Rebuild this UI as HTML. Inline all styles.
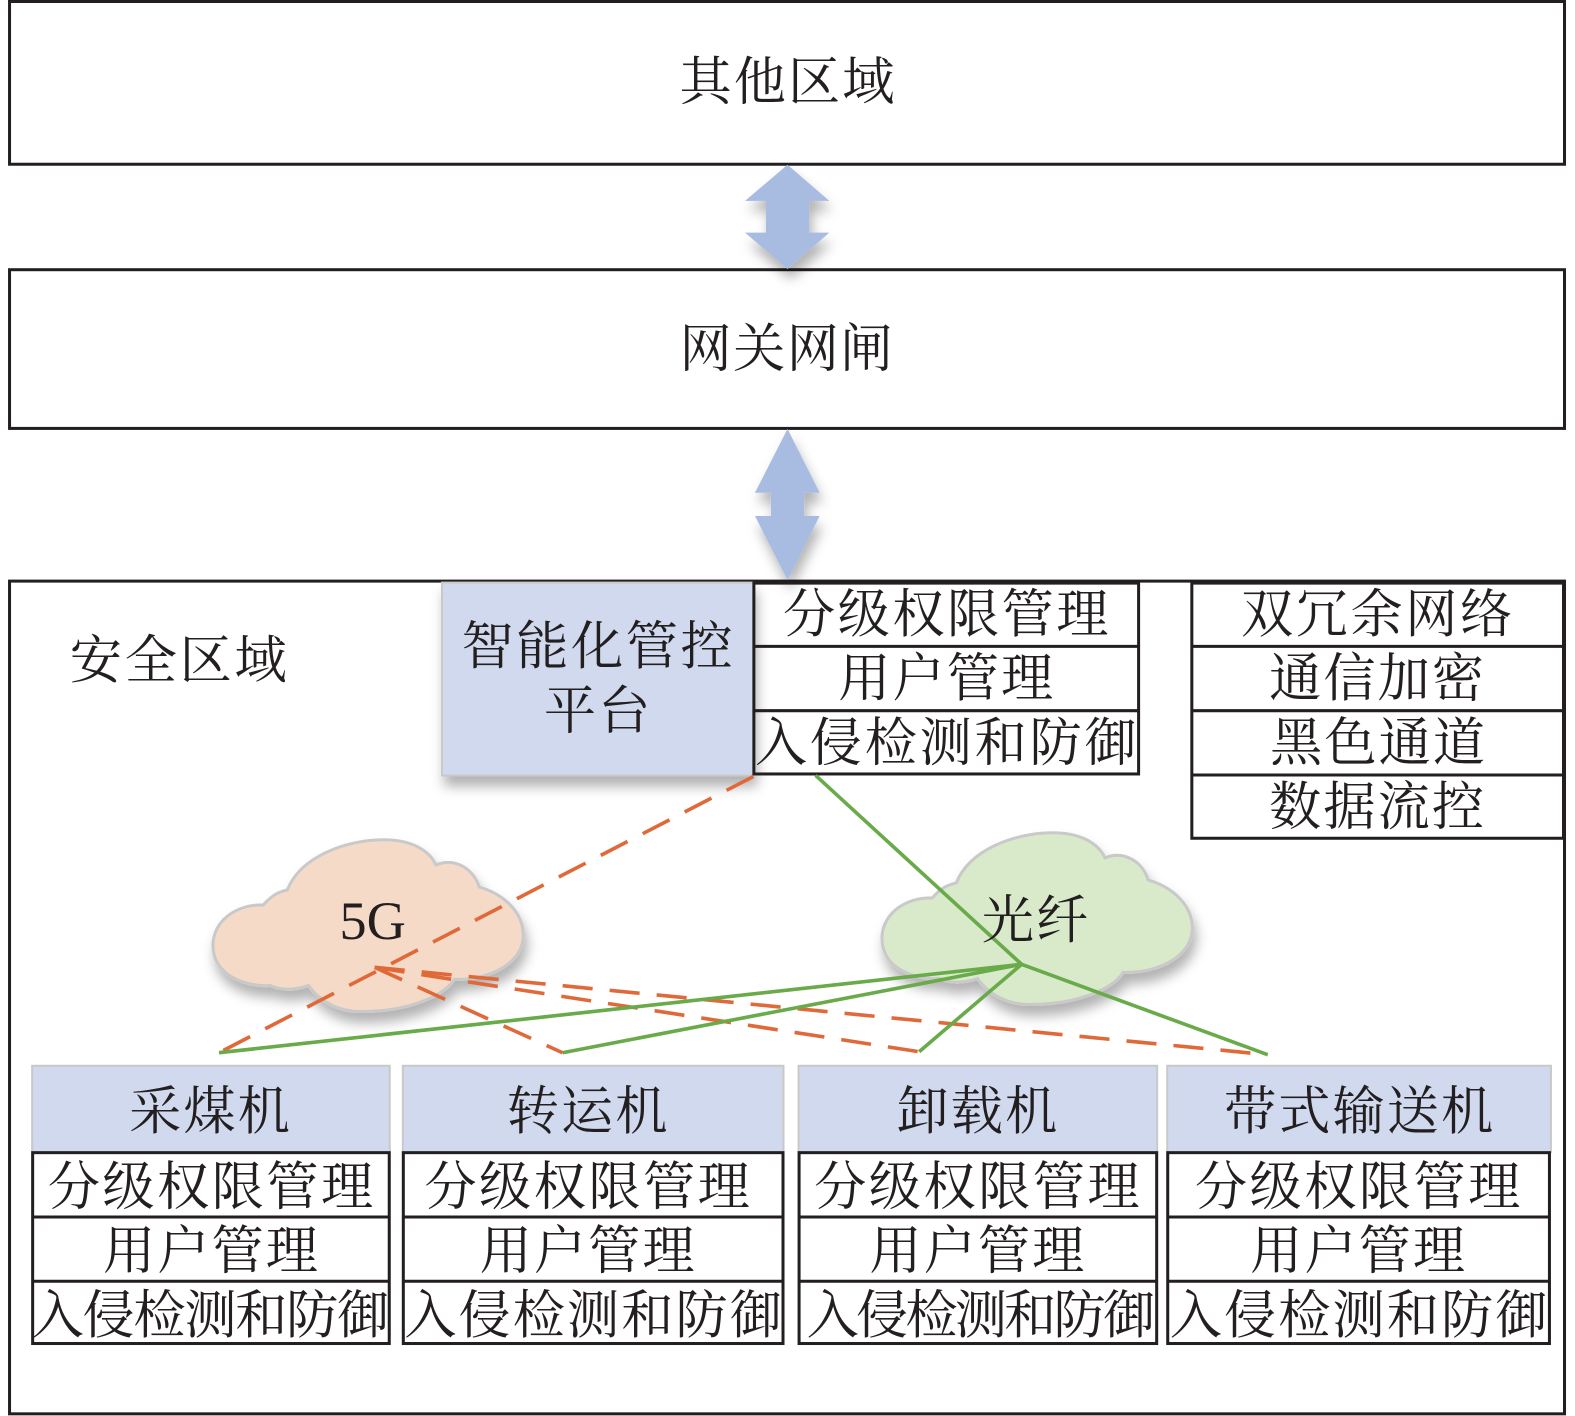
<!DOCTYPE html>
<html><head><meta charset="utf-8"><style>
html,body{margin:0;padding:0;background:#fff}
svg{display:block}
text{font-family:"Liberation Serif","Noto Serif CJK SC",serif;font-size:52px;fill:#231f20;text-anchor:middle}
.b{fill:none;stroke:#231f20;stroke-width:3}
.o{stroke:#e0693a;stroke-width:3.6;stroke-dasharray:30 17;fill:none}
.g{stroke:#69aa4a;stroke-width:3.6;fill:none}
</style></head><body>
<svg width="1575" height="1416" viewBox="0 0 1575 1416" xmlns="http://www.w3.org/2000/svg">
<defs>
<filter id="s" x="-20%" y="-20%" width="150%" height="150%"><feDropShadow dx="3" dy="10" stdDeviation="6" flood-color="#000" flood-opacity=".3"/></filter>
<path id="cloud" d="M263,903C272,893 278,890 287,888C300,855 345,838 383,838C410,838 428,848 435,863C455,855 473,868 478,885C505,893 522,912 522,933C522,960 490,978 453,977C445,992 410,1009 360,1009C335,1009 318,997 308,983C295,988 280,988 270,983C250,985 213,975 213,943C213,920 235,902 263,903Z"/>
</defs>
<rect width="1575" height="1416" fill="#fff"/>
<g transform="scale(1.0045)">
<rect class="b" x="9.5" y="1.5" width="1548" height="162"/>
<rect class="b" x="9.5" y="268.5" width="1548" height="158"/>
<rect class="b" x="9.5" y="578.5" width="1548" height="829"/>
<g fill="#a8bbe0" filter="url(#s)">
<polygon points="784,164 825.6,200 805.6,200 805.6,231.6 825.6,231.6 784,267.8 741.7,231.6 762.6,231.6 762.6,200 741.7,200"/>
<polygon points="784,427 816,490.5 800.5,490.5 800.5,513.7 816,513.7 784,577.4 751.6,513.7 767.5,513.7 767.5,490.5 751.6,490.5"/>
</g>
<rect x="440" y="580" width="310" height="192" fill="#d0d9ee" stroke="#c9c9c9" stroke-width="2" filter="url(#s)"/>
<rect x="441" y="581" width="308" height="190" fill="#d0d9ee"/>
<use href="#cloud" transform="translate(-1,-2)" fill="#f6dac8" stroke="#c9c9c9" stroke-width="3" filter="url(#s)"/>
<use href="#cloud" transform="translate(665,-9)" fill="#d8eaca" stroke="#c9c9c9" stroke-width="3" filter="url(#s)"/>
<g fill="#d0d9ee" stroke="#c9c9c9" stroke-width="2">
<rect x="32" y="1061" width="356" height="86"/>
<rect x="401" y="1061" width="379" height="86"/>
<rect x="795" y="1061" width="357" height="86"/>
<rect x="1162" y="1061" width="382" height="86"/>
</g>
<g class="b">
<rect x="750.5" y="580.5" width="383" height="190"/><path d="M750 643.5H1134M750 707.5H1134"/>
<rect x="1186.5" y="580.5" width="370" height="254"/><path d="M1186 643.5H1557M1186 707.5H1557M1186 771.5H1557"/>
<rect x="32.5" y="1147.5" width="355" height="190"/><path d="M32 1211.5H388M32 1275.5H388"/>
<rect x="401.5" y="1147.5" width="378" height="190"/><path d="M401 1211.5H780M401 1275.5H780"/>
<rect x="795.5" y="1147.5" width="356" height="190"/><path d="M795 1211.5H1152M795 1275.5H1152"/>
<rect x="1162.5" y="1147.5" width="380" height="190"/><path d="M1162 1211.5H1543M1162 1275.5H1543"/>
</g>
<path class="o" d="M750,773L218,1048"/>
<path class="o" d="M373,963L560,1048"/>
<path class="o" d="M373,963L915,1047"/>
<path class="o" d="M373,963L1262,1050"/>
<path class="g" d="M812,772L1017,960L218,1048M1017,960L560,1048M1017,960L915,1047M1017,960L1262,1050"/>
<text x="371" y="935" style="font-size:54px">5G</text>
<g transform="translate(-0.5,-1)">
<text x="784" y="100" textLength="214">其他区域</text>
<text x="783" y="366" textLength="212">网关网闸</text>
<text x="178" y="676" textLength="216">安全区域</text>
<text x="595" y="662" textLength="270">智能化管控</text>
<text x="595" y="726" textLength="106">平台</text>
<text x="942" y="630" textLength="324">分级权限管理</text>
<text x="942" y="694" textLength="214">用户管理</text>
<text x="942" y="758" textLength="380">入侵检测和防御</text>
<text x="1371" y="630" textLength="270">双冗余网络</text>
<text x="1371" y="694" textLength="214">通信加密</text>
<text x="1372" y="758" textLength="214">黑色通道</text>
<text x="1371" y="822" textLength="214">数据流控</text>
<text x="1031" y="935" textLength="106">光纤</text>
<text x="209" y="1125" textLength="160">采煤机</text>
<text x="585" y="1125" textLength="160">转运机</text>
<text x="973" y="1125" textLength="160">卸载机</text>
<text x="1353" y="1125" textLength="268">带式输送机</text>
<text x="210" y="1200" textLength="324">分级权限管理</text>
<text x="210" y="1264" textLength="214">用户管理</text>
<text x="210" y="1328" textLength="356">入侵检测和防御</text>
<text x="585" y="1200" textLength="324">分级权限管理</text>
<text x="585" y="1264" textLength="214">用户管理</text>
<text x="591" y="1328" textLength="376">入侵检测和防御</text>
<text x="973" y="1200" textLength="324">分级权限管理</text>
<text x="973" y="1264" textLength="214">用户管理</text>
<text x="977" y="1328" textLength="347">入侵检测和防御</text>
<text x="1352" y="1200" textLength="324">分级权限管理</text>
<text x="1352" y="1264" textLength="214">用户管理</text>
<text x="1353" y="1328" textLength="376">入侵检测和防御</text>
</g>
</g>
</svg>
</body></html>
